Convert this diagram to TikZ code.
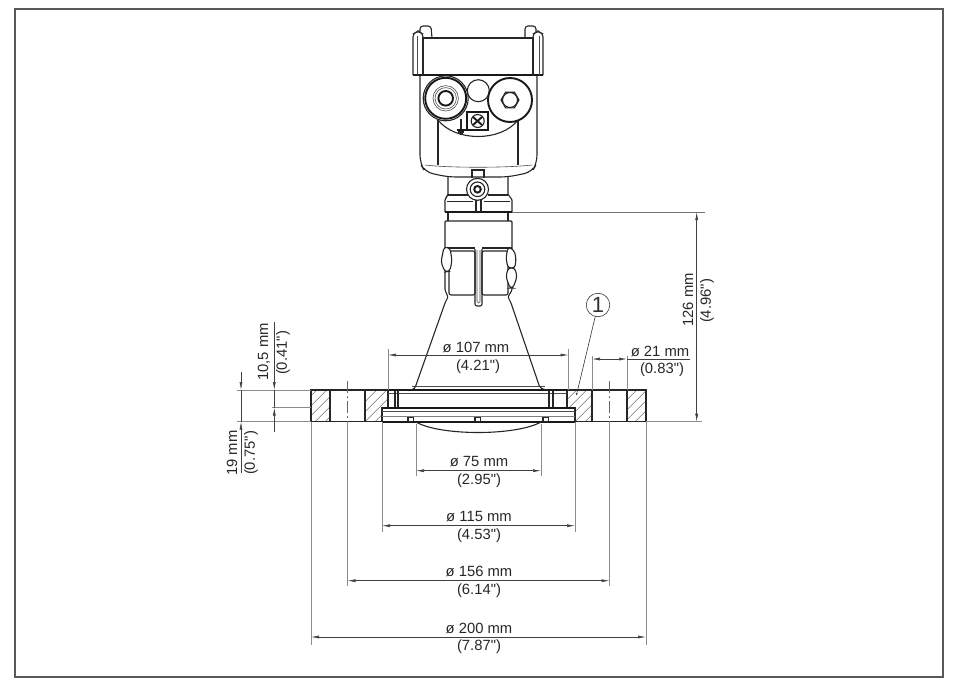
\documentclass[tikz,border=0pt]{standalone}
\usepackage{fontspec}
\newfontfamily\dimfont{Liberation Sans}
\usetikzlibrary{arrows.meta}
\tikzset{
  part/.style={line width=1.1pt,color=black!85},
  heavy/.style={line width=1.9pt,color=black!90},
  fine/.style={line width=.6pt,color=black!70},
  extline/.style={line width=1pt,color=black!45},
  dimline/.style={line width=.6pt,color=black!75,{Latex[length=8pt,width=3pt]}-{Latex[length=8pt,width=3pt]}},
  hatchline/.style={line width=.5pt,color=black!55},
  centerline/.style={line width=.5pt,color=black!60,dash pattern=on 12pt off 3pt on 2pt off 3pt},
  dimtext/.style={inner sep=0pt,color=black!85,font=\dimfont\fontsize{14.8}{16}\selectfont},
}
\begin{document}
\begin{tikzpicture}[x=1pt,y=-1pt]
  \useasboundingbox (0,0) rectangle (955,685);
  \draw[line width=2pt,color=black!65] (15,9) rectangle (943,677);
  % flange hatching
  \begin{scope}
    \clip (311,390) rectangle (330,421.7) (365,390) -- (388,390) -- (388,407.7) -- (382,407.7) -- (382,421.7) -- (365,421.7) -- cycle
          (567,390) -- (592,390) -- (592,421.7) -- (575,421.7) -- (575,407.7) -- (567,407.7) -- cycle (627,390) rectangle (646,421.7);
    \foreach \c in {285,295,...,640}{%
      \draw[hatchline] (\c,421.7) -- (\c+32,389.7);
    }
  \end{scope}
  % flange outline
  \draw[part] (311,390) rectangle (646,421.7);
  \foreach \x in {330,365,592,627}{%
    \draw[part] (\x,390) -- (\x,421.7);
  }
  \draw[part] (388,390) -- (388,407.7) -- (382,407.7) -- (382,421.7);
  \draw[part] (567,390) -- (567,407.7) -- (575,407.7) -- (575,421.7);
  % inner plates
  \draw[heavy] (382,407.7) -- (575,407.7);
  \draw[heavy] (382,421.7) -- (575,421.7);
  \draw[heavy] (388,390) -- (567,390);
  \draw[fine] (388,393) -- (567,393);
  \draw[fine] (412,386.5) -- (545,386.5);
  \draw[fine] (382,411.7) -- (575,411.7);
  \draw[line width=1.2pt,color=black!50] (382,416.2) -- (575,416.2);
  \draw[part] (395,391) -- (395,407) (398,391) -- (398,407);
  \draw[part] (549,391) -- (549,407) (553,391) -- (553,407);
  \foreach \x in {408,475,543}{%
    \draw[part,fill=white] (\x,417.5) rectangle (\x+5.5,421.5);
  }
  \draw[part] (416,422) .. controls (440,436) and (516,436) .. (541,422);
  % cone and collar
  \draw[part,rounded corners=1pt] (411,390) .. controls (414,389) and (415,388) .. (416,385) -- (445,303) -- (448,297) -- (445,290) -- (445,221) -- (512,221) -- (512,290) -- (508,297) -- (511,303) -- (539,385) .. controls (540,388) and (542,389) .. (547,390);
  \draw[part,rounded corners=2pt] (449,295) -- (449,251) -- (475,251) -- (475,295) -- cycle;
  \draw[part,rounded corners=2pt] (508,295) -- (508,251) -- (482,251) -- (482,295) -- cycle;
  \draw[part,rounded corners=2pt] (475,249) -- (475,306) -- (482,306) -- (482,249);
  \draw[fine,rounded corners=1.5pt] (477,250) -- (477,303) -- (480,303) -- (480,250);
  \draw[part] (445,248) -- (475,248) (482,248) -- (512,248);
  \draw[part,fill=white,rounded corners=3pt] (444,247) -- (450,248) -- (452,260) -- (450,271) -- (445,272) -- (441,262) -- cycle;
  \draw[part,fill=white,rounded corners=3pt] (508,247) -- (514,250) -- (516,258) -- (515,268) -- (508,268) -- (506,258) -- cycle;
  \draw[part,fill=white,rounded corners=3pt] (508,268) -- (515,268) -- (517,277) -- (513,288) -- (510,288) -- (506,277) -- cycle;
  \draw[part] (448,212) -- (448,221) (508,212) -- (508,221);
  % neck
  \draw[part,rounded corners=2pt] (445,212) -- (445,198) -- (448,196) -- (448,177);
  \draw[part,rounded corners=2pt] (512,212) -- (512,198) -- (508,196) -- (508,177);
  \draw[heavy,line width=1.2pt] (445,212) -- (512,212);
  \draw[part] (447,201.5) -- (473,201.5) (484,201.5) -- (510,201.5);
  \draw[part] (448,195) -- (468,195) (488,195) -- (508,195);
  \draw[part] (476,200) -- (476,212) (481,200) -- (481,212);
  \draw[part] (472,178) -- (472,170) -- (484,170) -- (484,178);
  \draw[part] (477.5,189.3) circle (11);
  \draw[part] (477.5,189.3) circle (7.3);
  \draw[heavy] (477.5,189.3) circle (3.3);
  % housing
  \draw[part,rounded corners=8pt] (420,75) -- (420,163) -- (425,172) -- (448,177) -- (508,177) -- (532,172) -- (537,163) -- (537,75);
  \draw[fine] (425,165) .. controls (450,168) and (506,168) .. (532,165);
  \draw[part] (438,120) -- (438,165) (518,120) -- (518,165);
  \draw[part] (438,120) .. controls (455,142) and (501,142) .. (518,120);
  \draw[part] (478.3,90.7) circle (11);
  \draw[part,fill=white] (445.7,98.3) circle (22.5);
  \draw[heavy,fill=white] (445.7,98.3) circle (20.5);
  \draw[fine] (445.7,98.3) circle (12.7);
  \draw[fine] (445.7,98.3) circle (10.7);
  \draw[heavy] (445.7,98.3) circle (7.3);
  \draw[heavy,fill=white] (510,100) circle (22);
  \draw[part] (519,100) -- (514.5,107.8) -- (505.5,107.8) -- (501,100) -- (505.5,92.2) -- (514.5,92.2) -- cycle;
  \draw[part] (510,100) circle (7.5);
  % terminal and earth mark
  \draw[heavy,fill=white] (467,112) rectangle (488,130);
  \draw[part] (477.7,121) circle (6.5);
  \draw[heavy] (473,117) -- (482,125) (473,125) -- (482,117);
  \draw[part] (461,119) -- (461,130);
  \draw[heavy,line width=1.2pt] (456.5,130) -- (465.5,130);
  \draw[part] (458,132) -- (464,132) (459.5,134) -- (462.5,134);
  % cap
  \draw[part] (423,38) rectangle (533,75);
  \draw[heavy] (413,75) -- (543,75);
  \draw[part,rounded corners=3pt] (413,75) -- (413,34) -- (418,31) -- (423,34) -- (423,75);
  \draw[part,rounded corners=3pt] (543,75) -- (543,34) -- (538,31) -- (533,34) -- (533,75);
  \draw[fine] (417,36) -- (417,75) (539,36) -- (539,75);
  \draw[part,rounded corners=3pt] (420,32) -- (420,26) -- (431,26) -- (432,38);
  \draw[part,rounded corners=3pt] (536,32) -- (536,26) -- (525,26) -- (525,38);
  % extension lines
  \draw[extline] (237,390) -- (311,390);
  \draw[extline] (272,407.7) -- (311,407.7);
  \draw[extline] (237,421.7) -- (311,421.7);
  \draw[extline] (646,421.7) -- (702,421.7);
  \draw[line width=.7pt,color=black!55] (512,212) -- (705,212);
  \draw[extline] (388,390) -- (388,349);
  \draw[extline] (568.5,390) -- (568.5,349);
  \draw[extline] (592,390) -- (592,356);
  \draw[extline] (627,390) -- (627,356);
  \draw[extline] (416,424) -- (416,476);
  \draw[extline] (541,424) -- (541,476);
  \draw[extline] (382,421.7) -- (382,532);
  \draw[extline] (575,421.7) -- (575,532);
  \draw[extline] (311,421.7) -- (311,644.5);
  \draw[extline] (646,421.7) -- (646,644.5);
  \draw[extline] (347.5,421.7) -- (347.5,586);
  \draw[extline] (609.5,421.7) -- (609.5,586);
  \draw[centerline] (347.5,381) -- (347.5,421.7);
  \draw[centerline] (609.5,381) -- (609.5,421.7);
  % diameters below the flange
  \foreach \name/\xa/\xb/\y/\mm/\inch in {a/416/541/470.7/75/2.95,b/382/575/525.7/115/4.53,c/347.5/609.5/580.7/156/6.14,d/311/646/637/200/7.87}{%
    \coordinate (\name l) at (\xa,\y);
    \coordinate (\name r) at (\xb,\y);
    \draw[dimline] (\name l) -- (\name r);
    \node[dimtext] (\name mm) at (479,\y-9) {ø \mm{} mm};
    \node[dimtext] (\name in) at (479,\y+10) {(\inch")};
  }
  % diameter 107
  \coordinate (el) at (388,355);
  \coordinate (er) at (568.5,355);
  \draw[dimline] (el) -- (er);
  \node[dimtext] (emm) at (476,347) {ø 107 mm};
  \node[dimtext] (ein) at (478,367) {(4.21")};
  % diameter 21
  \coordinate (fl) at (592,359);
  \coordinate (fr) at (627,359);
  \coordinate (fe) at (690,359);
  \draw[dimline] (fl) -- (fr);
  \draw[line width=.6pt,color=black!75] (fr) -- (fe);
  \node[dimtext] (fmm) at (660,351) {ø 21 mm};
  \node[dimtext] (fin) at (662,370) {(0.83")};
  % height
  \coordinate (gt) at (696.7,212);
  \coordinate (gb) at (696.7,421.7);
  \draw[dimline] (gt) -- (gb);
  \node[dimtext,rotate=90] (gmm) at (688,300) {126 mm};
  \node[dimtext,rotate=90] (gin) at (707,301) {(4.96")};
  % flange thickness, arrows from outside
  \coordinate (ht) at (274.3,322);
  \coordinate (hu) at (274.3,390);
  \coordinate (hv) at (274.3,407.7);
  \coordinate (hb) at (274.3,432);
  \draw[line width=.6pt,color=black!75,-{Latex[length=8pt,width=3pt]}] (ht) -- (hu);
  \draw[line width=.6pt,color=black!75,-{Latex[length=8pt,width=3pt]}] (hb) -- (hv);
  \draw[line width=.6pt,color=black!75] (hu) -- (hv);
  \node[dimtext,rotate=90] (hmm) at (264,352) {10,5 mm};
  \node[dimtext,rotate=90] (hin) at (283,353) {(0.41")};
  \coordinate (it) at (241,372);
  \coordinate (iu) at (241,390);
  \coordinate (iv) at (241,421.7);
  \coordinate (ib) at (241,473);
  \draw[line width=.6pt,color=black!75,-{Latex[length=8pt,width=3pt]}] (it) -- (iu);
  \draw[line width=.6pt,color=black!75,-{Latex[length=8pt,width=3pt]}] (ib) -- (iv);
  \draw[line width=.6pt,color=black!75] (iu) -- (iv);
  \node[dimtext,rotate=90] (imm) at (232,453) {19 mm};
  \node[dimtext,rotate=90] (iin) at (251,453) {(0.75")};
  % callout
  \node[draw,circle,line width=.6pt,color=black!80,minimum size=23.5pt,inner sep=0pt,font=\dimfont\fontsize{22}{22}\selectfont] (mark) at (598,305) {1};
  \coordinate (markend) at (576.7,394);
  \draw[line width=.6pt,color=black!80] (mark) -- (markend);
  \fill[black!80] (markend) circle (1);
\end{tikzpicture}
\end{document}
